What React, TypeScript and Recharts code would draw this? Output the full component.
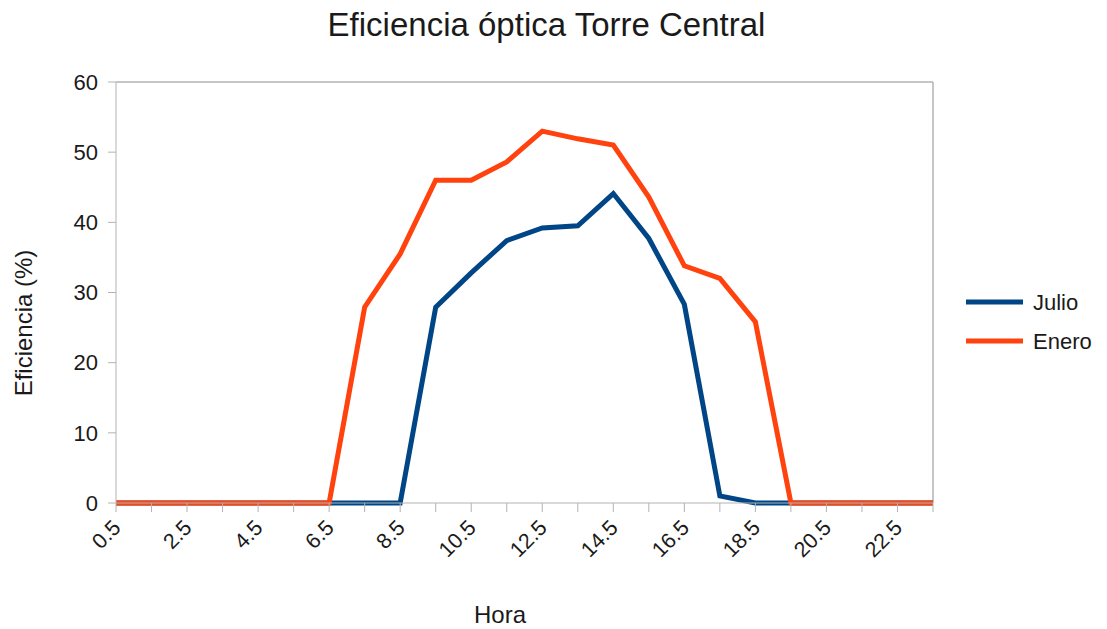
import React from 'react';
import { LineChart, Line, XAxis, YAxis, ReferenceLine } from 'recharts';

const hours = ['0.5','1.5','2.5','3.5','4.5','5.5','6.5','7.5','8.5','9.5','10.5','11.5','12.5','13.5','14.5','15.5','16.5','17.5','18.5','19.5','20.5','21.5','22.5','23.5'];
const julio = [0,0,0,0,0,0,0,0,0,27.9,32.8,37.4,39.2,39.5,44.1,37.7,28.3,1.0,0,0,0,0,0,0];
const enero = [0,0,0,0,0,0,0,27.9,35.5,46.0,46.0,48.6,53.0,51.9,51.0,43.6,33.8,32.0,25.8,0,0,0,0,0];
const yTicks = [0,10,20,30,40,50,60];
const seriesNames = ['Julio', 'Enero'];
const title = 'Eficiencia óptica Torre Central';
const xTitle = 'Hora';
const yTitle = 'Eficiencia (%)';

const data = hours.map((h, i) => ({ hora: h, Julio: julio[i], Enero: enero[i] }));

const FONT = '"Liberation Sans", Arial, sans-serif';
const TXT = '#1a1a1a';
const GRID = '#b3b3b3';
const COLORS = ['#004586', '#ff420e'];

const XTick = (props: any) => {
  const { x, y, payload, index } = props;
  if (index % 2 !== 0) return null;
  const ax = x + 6;
  const ay = y + 15;
  return (
    <text
      x={ax}
      y={ay}
      textAnchor="end"
      fontFamily={FONT}
      fontSize={21.5}
      fill={TXT}
      transform={`rotate(-45, ${ax}, ${ay})`}
    >
      {payload.value}
    </text>
  );
};

export default function App() {
  return (
    <div style={{ position: 'absolute', left: 0, top: 0, width: 1107, height: 629, background: '#fff' }}>
      <LineChart
        width={1107}
        height={629}
        data={data}
        margin={{ top: 82, right: 174, bottom: 66, left: 56 }}
      >
        <XAxis
          dataKey="hora"
          interval={0}
          tickSize={9}
          tick={<XTick />}
          stroke={GRID}
          height={60}
          padding={{ left: 0, right: 0 }}
        />
        <YAxis
          domain={[0, 60]}
          ticks={yTicks}
          tickSize={8}
          tickMargin={10}
          stroke={GRID}
          width={60}
          tick={{ fill: TXT, fontSize: 22, fontFamily: FONT }}
        />
        <ReferenceLine y={60} stroke={GRID} strokeWidth={1.5} />
        <ReferenceLine x="23.5" stroke={GRID} strokeWidth={1.5} />
        <Line type="linear" dataKey="Julio" stroke={COLORS[0]} strokeWidth={5} dot={false} isAnimationActive={false} />
        <Line type="linear" dataKey="Enero" stroke={COLORS[1]} strokeWidth={5} dot={false} isAnimationActive={false} />
      </LineChart>
      <svg width={1107} height={629} style={{ position: 'absolute', left: 0, top: 0, pointerEvents: 'none' }}>
        <text x={546.5} y={36} textAnchor="middle" fontFamily={FONT} fontSize={33} fill={TXT}>{title}</text>
        <text x={500} y={623} textAnchor="middle" fontFamily={FONT} fontSize={24} fill={TXT}>{xTitle}</text>
        <text x={32} y={323} textAnchor="middle" fontFamily={FONT} fontSize={24} fill={TXT} transform="rotate(-90, 32, 323)">{yTitle}</text>
        {seriesNames.map((name, i) => (
          <g key={name}>
            <line x1={966} x2={1023} y1={302 + i * 39} y2={302 + i * 39} stroke={COLORS[i]} strokeWidth={5} />
            <text x={1033} y={310 + i * 39} fontFamily={FONT} fontSize={22} fill={TXT}>{name}</text>
          </g>
        ))}
      </svg>
    </div>
  );
}
